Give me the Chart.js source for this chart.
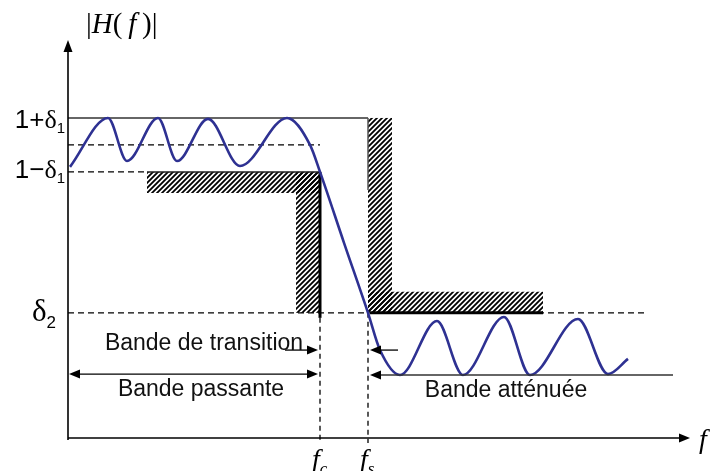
<!DOCTYPE html>
<html><head><meta charset="utf-8">
<script src="https://cdn.jsdelivr.net/npm/chart.js@4"></script>
<style>html,body{margin:0;padding:0;background:#fff}canvas{display:block}</style>
</head><body>
<canvas id="c" width="711" height="471"></canvas>
<script>
// ---- data (frequency in arbitrary units, magnitude |H(f)|) ----
const freqs     = [0.02, 0.40, 0.59, 0.90, 1.09, 1.40, 1.72, 2.19, 2.42, 2.52, 2.76, 3.00, 3.12, 3.32, 3.69, 3.95, 4.36, 4.62, 5.10, 5.40, 5.60];
const magnitude = [0.925, 1.092, 0.945, 1.092, 0.945, 1.089, 0.928, 1.092, 1.000, 0.908, 0.666, 0.427, 0.300, 0.215, 0.399, 0.215, 0.413, 0.215, 0.406, 0.218, 0.270];
const levelLabels = ['1+δ1', '1−δ1', 'δ2'];
const levelValues = [1.092, 0.908, 0.427];
const nominalGain = [1.0];
const edgeLabels = ['fc', 'fs'];
const edgeFreqs  = [2.52, 3.00];
const bandLabels = ['Bande de transition', 'Bande passante', 'Bande atténuée'];
const xMax = 6.22, yMax = 1.358;
const hatchWidthF = 0.24, hatchWidthM = 0.072, passHatchStart = 0.79, stopHatchEnd = 4.75;
const stopDashEnd = 5.77, bandArrowEnd = 6.05, transArrowOut = 0.35;
const arrowLevels = [0.300, 0.218, 0.215];

function hatchPattern(ctx){
  const s = 5, t = document.createElement('canvas');
  t.width = s; t.height = s;
  const g = t.getContext('2d');
  g.strokeStyle = '#000'; g.lineWidth = 1.8;
  g.beginPath();
  g.moveTo(-1, s + 1); g.lineTo(s + 1, -1);
  g.moveTo(-1, 1); g.lineTo(1, -1);
  g.moveTo(s - 1, s + 1); g.lineTo(s + 1, s - 1);
  g.stroke();
  return ctx.createPattern(t, 'repeat');
}

function arrowHead(ctx, x, y, dir){ // dir: 'l','r','u'
  ctx.beginPath();
  if (dir === 'r'){ ctx.moveTo(x, y); ctx.lineTo(x - 11, y - 4.5); ctx.lineTo(x - 11, y + 4.5); }
  if (dir === 'l'){ ctx.moveTo(x, y); ctx.lineTo(x + 11, y - 4.5); ctx.lineTo(x + 11, y + 4.5); }
  if (dir === 'u'){ ctx.moveTo(x, y); ctx.lineTo(x - 4.5, y + 12); ctx.lineTo(x + 4.5, y + 12); }
  ctx.closePath(); ctx.fill();
}
function line(ctx, x1, y1, x2, y2, w, color, dash){
  ctx.save(); ctx.beginPath();
  ctx.lineWidth = w; ctx.strokeStyle = color || '#000';
  ctx.setLineDash(dash || []);
  ctx.moveTo(x1, y1); ctx.lineTo(x2, y2); ctx.stroke(); ctx.restore();
}
function runs(ctx, parts, x, y, align){ // parts: [text,font,dy]
  let w = 0;
  parts.forEach(p => { ctx.font = p[1]; w += ctx.measureText(p[0]).width; });
  let cx = align === 'right' ? x - w : (align === 'center' ? x - w / 2 : x);
  ctx.textAlign = 'left'; ctx.textBaseline = 'alphabetic';
  parts.forEach(p => { ctx.font = p[1]; ctx.fillText(p[0], cx, y + (p[2] || 0)); cx += ctx.measureText(p[0]).width; });
}

const diagram = {
  id: 'diagram',
  beforeDatasetsDraw(chart){
    const ctx = chart.ctx, X = chart.scales.x, Y = chart.scales.y;
    const px = v => X.getPixelForValue(v), py = v => Y.getPixelForValue(v);
    const [up, lo, st] = levelValues, [fc, fs] = edgeFreqs;
    const pat = hatchPattern(ctx);
    ctx.save();
    ctx.fillStyle = pat;
    // passband template (L shape)
    ctx.fillRect(px(passHatchStart), py(lo), px(fc) - px(passHatchStart), py(lo - hatchWidthM) - py(lo));
    ctx.fillRect(px(fc - hatchWidthF), py(lo), px(fc) - px(fc - hatchWidthF), py(st) - py(lo));
    // stopband template (L shape)
    ctx.fillRect(px(fs), py(up), px(fs + hatchWidthF) - px(fs), py(st) - py(up));
    ctx.fillRect(px(fs), py(st + hatchWidthM), px(stopHatchEnd) - px(fs), py(st) - py(st + hatchWidthM));
    ctx.restore();
    const dash = [6, 4];
    // level lines
    line(ctx, px(0), py(up), px(fs), py(up), 1.5, '#333');
    line(ctx, px(fs), py(up), px(fs), py(up - 0.246), 1.5, '#555');
    line(ctx, px(0), py(nominalGain[0]), px(fc), py(nominalGain[0]), 1.3, '#000', dash);
    line(ctx, px(0), py(lo), px(passHatchStart), py(lo), 1.3, '#000', dash);
    line(ctx, px(passHatchStart), py(lo), px(fc), py(lo), 1.5, '#222');
    line(ctx, px(0), py(st), px(stopDashEnd), py(st), 1.3, '#000', dash);
    line(ctx, px(fc), py(lo), px(fc), py(st) + 5, 3, '#000');
    line(ctx, px(fs) + 2, py(st), px(stopHatchEnd), py(st), 3, '#000');
    // edge frequency verticals
    line(ctx, px(fc), py(st) + 5, px(fc), py(0) + 5, 1.3, '#000', [5, 4]);
    line(ctx, px(fs), py(st), px(fs), py(0) + 5, 1.3, '#000', [5, 4]);
  },
  afterDatasetsDraw(chart){
    const ctx = chart.ctx, X = chart.scales.x, Y = chart.scales.y;
    const px = v => X.getPixelForValue(v), py = v => Y.getPixelForValue(v);
    const [fc, fs] = edgeFreqs;
    ctx.save();
    ctx.fillStyle = '#000';
    // axes
    line(ctx, px(0), py(0) + 2, px(0), py(yMax) + 10, 1.6, '#000');
    arrowHead(ctx, px(0), py(yMax), 'u');
    line(ctx, px(0), py(0), px(xMax) - 10, py(0), 1.6, '#000');
    arrowHead(ctx, px(xMax), py(0), 'r');
    // band arrows
    const yT = py(arrowLevels[0]), yP = py(arrowLevels[1]), yA = py(arrowLevels[2]);
    line(ctx, px(fc - transArrowOut), yT, px(fc) - 8, yT, 1.3);
    arrowHead(ctx, px(fc) - 2, yT, 'r');
    line(ctx, px(fs) + 8, yT, px(fs + 0.30), yT, 1.3);
    arrowHead(ctx, px(fs) + 2, yT, 'l');
    line(ctx, px(0) + 8, yP, px(fc) - 8, yP, 1.3);
    arrowHead(ctx, px(0) + 1, yP, 'l');
    arrowHead(ctx, px(fc) - 2, yP, 'r');
    line(ctx, px(fs) + 8, yA, px(bandArrowEnd), yA, 1.6, '#333');
    arrowHead(ctx, px(fs) + 2, yA, 'l');
    // band texts
    ctx.fillStyle = '#111';
    ctx.font = '23px "Liberation Sans", Arial, sans-serif';
    ctx.textAlign = 'center'; ctx.textBaseline = 'alphabetic';
    ctx.fillText(bandLabels[0], px(1.36), yT);
    ctx.fillText(bandLabels[1], px(1.33), yP + 22);
    ctx.fillText(bandLabels[2], px(4.38), yA + 22);
    // level labels
    ctx.fillStyle = '#000';
    const sans = s => s + 'px "Liberation Sans", Arial, sans-serif';
    const serif = s => s + 'px "Liberation Serif", "Times New Roman", serif';
    const serifI = s => 'italic ' + s + 'px "Liberation Serif", "Times New Roman", serif';
    runs(ctx, [['1+', sans(26)], ['δ', serif(26)], ['1', sans(15), 5]], 65, py(levelValues[0]) + 10, 'right');
    runs(ctx, [['1−', sans(26)], ['δ', serif(26)], ['1', sans(15), 5]], 65, py(levelValues[1]) + 6, 'right');
    runs(ctx, [['δ', serif(31)], ['2', sans(17), 7]], 56, py(levelValues[2]) + 8, 'right');
    // axis titles
    runs(ctx, [['|', serif(29)], ['H', serifI(29)], ['(', serif(29)], ['\u2009f', serifI(29)], ['\u2009)', serif(29)], ['|', serif(29)]], 86, 33, 'left');
    runs(ctx, [['f', serifI(28)]], 699, py(0) + 10, 'left');
    runs(ctx, [['f', serifI(28)], ['c', serifI(17), 6]], px(fc) - 8, py(0) + 30, 'left');
    runs(ctx, [['f', serifI(28)], ['s', serifI(17), 6]], px(fs) - 8, py(0) + 30, 'left');
    ctx.restore();
  }
};

new Chart(document.getElementById('c'), {
  type: 'line',
  data: {
    datasets: [{
      data: freqs.map((f, i) => ({ x: f, y: magnitude[i] })),
      borderColor: '#2e3192',
      borderWidth: 2.6,
      pointRadius: 0,
      fill: false,
      cubicInterpolationMode: 'monotone',
      clip: false
    }]
  },
  options: {
    responsive: false,
    animation: false,
    layout: { padding: { left: 68, right: 21, top: 40, bottom: 33 } },
    scales: {
      x: { type: 'linear', min: 0, max: xMax, display: false },
      y: { type: 'linear', min: 0, max: yMax, display: false }
    },
    plugins: { legend: { display: false }, tooltip: { enabled: false } }
  },
  plugins: [diagram]
});
</script>
</body></html>
